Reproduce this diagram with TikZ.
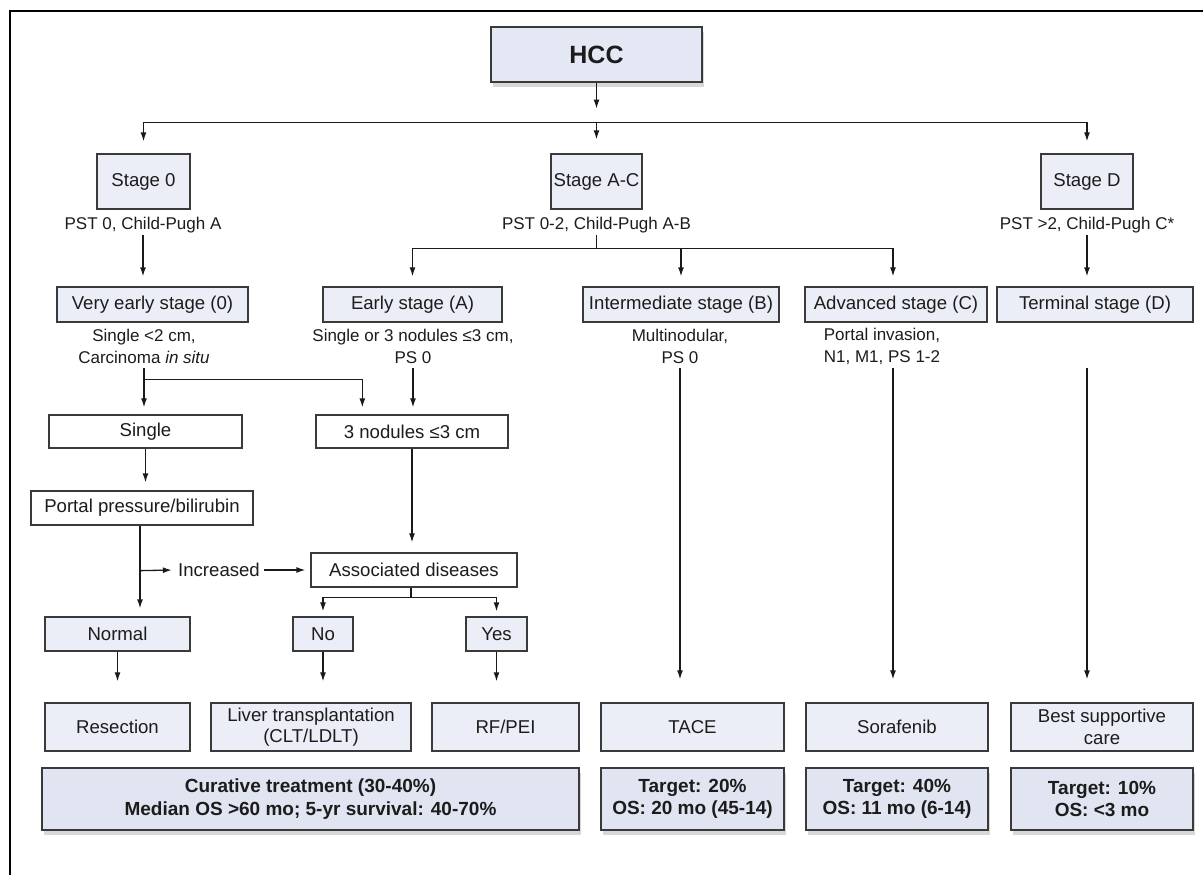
\documentclass[tikz,border=0pt]{standalone}
\usepackage{fontspec}
\setmainfont{Liberation Sans}
\usetikzlibrary{arrows.meta,shadows,calc}
\definecolor{textcol}{HTML}{1C1C1C}
\definecolor{bordercol}{HTML}{3A3A3A}
\definecolor{linecol}{HTML}{1A1A1A}
\definecolor{boxfill}{HTML}{EBEEF7}
\definecolor{hccfill}{HTML}{E3E8F4}
\definecolor{resfill}{HTML}{E0E5F1}
\begin{document}
\begin{tikzpicture}[x=1pt,y=-1pt,
  box/.style={draw=bordercol, line width=1.3pt, fill=boxfill, inner sep=0pt, align=center,
    font=\fontsize{18.6}{21.5}\selectfont, text=textcol},
  wbox/.style={box, fill=white},
  lbl/.style={inner sep=0pt, align=center, font=\fontsize{17}{22}\selectfont, text=textcol},
  shad/.style={drop shadow={shadow xshift=1.5pt, shadow yshift=-5pt, opacity=0.3, fill=gray}},
  res/.style={box, fill=resfill, font=\bfseries\fontsize{19}{22.5}\selectfont, shad},
  arr/.style={-{Latex[length=9pt,width=6pt]}, line width=1.3pt, draw=linecol},
  ln/.style={line width=1.3pt, draw=linecol}]
\useasboundingbox (0,0) rectangle (1203,875);
\fill[white] (0,0) rectangle (1203,875);
\draw[line width=1.6pt, black] (10,875) -- (10,11) -- (1203,11);

% top
\node[box, shad, fill=hccfill, font=\bfseries\fontsize{25}{28}\selectfont, minimum width=211pt, minimum height=55pt] (hcc) at (596.5,54.5) {HCC};
\node[box, minimum width=93pt, minimum height=55pt] (st0) at (143.5,181.5) {Stage 0};
\node[box, minimum width=91pt, minimum height=55pt] (stAC) at (596.5,181.5) {Stage A-C};
\node[box, minimum width=92pt, minimum height=55pt] (stD) at (1087,181.5) {Stage D};
\node[lbl, minimum height=20pt] (lab0) at (143,225) {PST 0, Child-Pugh A};
\node[lbl, minimum height=20pt] (labAC) at (596.5,225) {PST 0-2, Child-Pugh A-B};
\node[lbl, minimum height=20pt] (labD) at (1087,225) {PST >2, Child-Pugh C*};

% row 2
\node[box, minimum width=191pt, minimum height=35pt] (ve) at (152.5,304.5) {Very early stage (0)};
\node[box, minimum width=179pt, minimum height=35pt] (ea) at (412.5,304.5) {Early stage (A)};
\node[box, minimum width=196pt, minimum height=35pt] (im) at (681,304.5) {Intermediate stage (B)};
\node[box, minimum width=182pt, minimum height=35pt] (ad) at (896,304.5) {Advanced stage (C)};
\node[box, minimum width=196pt, minimum height=35pt] (te) at (1095,304.5) {Terminal stage (D)};

\node[lbl, minimum height=44pt] (dve) at (144,346) {Single <2 cm,\\Carcinoma \textit{in situ}};
\node[lbl, minimum height=44pt] (dea) at (413,346) {Single or 3 nodules ≤3 cm,\\PS 0};
\node[lbl, minimum height=44pt] (dim) at (680,346) {Multinodular,\\PS 0};
\node[lbl, minimum height=44pt] (dad) at (882,346) {Portal invasion,\\N1, M1, PS 1-2};

% left branch
\node[wbox, minimum width=193pt, minimum height=33pt] (single) at (145.5,431.5) {Single};
\node[wbox, minimum width=192pt, minimum height=33pt] (nod3) at (412,431.5) {3 nodules ≤3 cm};
\node[wbox, minimum width=222pt, minimum height=34pt] (portal) at (142,508) {Portal pressure/bilirubin};
\node[wbox, minimum width=206pt, minimum height=34pt] (assoc) at (414,570) {Associated diseases};
\node[inner sep=0pt, font=\fontsize{18.6}{21.5}\selectfont, text=textcol, minimum width=90pt] (incr) at (219,570) {Increased};
\node[box, minimum width=145pt, minimum height=34pt] (normal) at (117.5,634) {Normal};
\node[box, minimum width=60pt, minimum height=34pt] (no) at (323,634) {No};
\node[box, minimum width=61pt, minimum height=34pt] (yes) at (496.5,634) {Yes};

% treatments
\node[box, minimum width=145pt, minimum height=48pt] (resect) at (117.5,727) {Resection};
\node[box, minimum width=200pt, minimum height=48pt] (liver) at (311,727) {Liver transplantation\\(CLT/LDLT)};
\node[box, minimum width=147pt, minimum height=48pt] (rfpei) at (505.5,727) {RF/PEI};
\node[box, minimum width=183pt, minimum height=48pt] (tace) at (692.5,727) {TACE};
\node[box, minimum width=182pt, minimum height=48pt] (sora) at (897,727) {Sorafenib};
\node[box, minimum width=182pt, minimum height=48pt] (bsc) at (1102,727) {Best supportive\\care};

% results
\node[res, minimum width=537pt, minimum height=62pt] (cur) at (310.5,799) {Curative treatment (30-40\%)\\Median OS >60 mo; 5-yr survival: 40-70\%};
\node[res, minimum width=183pt, minimum height=62pt] (rt) at (692.5,799) {Target: 20\%\\OS: 20 mo (45-14)};
\node[res, minimum width=182pt, minimum height=62pt] (rs) at (897,799) {Target: 40\%\\OS: 11 mo (6-14)};
\node[res, minimum width=182pt, minimum height=62pt] (rb) at (1102,799) {Target: 10\%\\OS: <3 mo};

% connectors
\coordinate (j0) at ($(hcc.south)+(0,40)$);
\draw[arr, shorten >=14pt] (hcc.south) -- (j0);
\draw[arr, shorten >=12pt] (j0) -| (st0.north);
\draw[arr, shorten >=14pt] (j0) -- (stAC.north);
\draw[arr, shorten >=12pt] (j0) -| (stD.north);

\draw[arr, shorten >=10pt] (lab0.south) -- (lab0.south |- ve.north);
\coordinate (jAC) at ($(labAC.south)+(0,13)$);
\draw[ln] (labAC.south) -- (jAC);
\draw[arr, shorten >=10pt] (jAC) -| (ea.north);
\draw[arr, shorten >=10pt] (jAC) -| (im.north);
\coordinate (adx) at ([xshift=-3pt]ad.north);
\draw[arr, shorten >=10pt] (jAC) -| (adx);
\draw[arr, shorten >=10pt] (labD.south) -- (labD.south |- te.north);

\coordinate (jve) at ($(dve.south)+(0,11)$);
\coordinate (n3in) at ([xshift=47pt]nod3.north west);
\draw[arr, shorten >=7pt] (dve.south) -- (dve.south |- single.north);
\draw[arr, shorten >=7pt] (jve) -| (n3in);
\draw[arr, shorten >=7pt] (dea.south) -- (dea.south |- nod3.north);
\draw[arr, shorten >=8pt] (single.south) -- (single.south |- portal.north);
\draw[arr, shorten >=10pt] (nod3.south) -- (nod3.south |- assoc.north);

\coordinate (pp) at ([xshift=-2pt]portal.south);
\coordinate (pj) at ($(pp)+(0,45)$);
\draw[arr, shorten >=8pt] (pp) -- (pp |- normal.north);
\draw[arr, shorten >=2pt] (pj) -- (incr.west);
\draw[arr, shorten >=5pt] (incr.east) -- (assoc.west);

\coordinate (aj) at ($(assoc.south)+(-3,10)$);
\draw[ln] (aj |- assoc.south) -- (aj);
\draw[arr, shorten >=5pt] (aj) -| (no.north);
\draw[arr, shorten >=5pt] (aj) -| (yes.north);

\draw[arr, shorten >=21pt] (normal.south) -- (normal.south |- resect.north);
\draw[arr, shorten >=21pt] (no.south) -- (no.south |- liver.north);
\draw[arr, shorten >=21pt] (yes.south) -- (yes.south |- rfpei.north);

\coordinate (adb) at ([xshift=-3pt]ad.south);
\draw[arr, shorten >=23pt] (dim.south) -- (dim.south |- tace.north);
\draw[arr, shorten >=23pt] (adb |- dad.south) -- (adb |- sora.north);
\draw[arr, shorten >=23pt] (labD.south |- dad.south) -- (labD.south |- bsc.north);
\end{tikzpicture}
\end{document}
